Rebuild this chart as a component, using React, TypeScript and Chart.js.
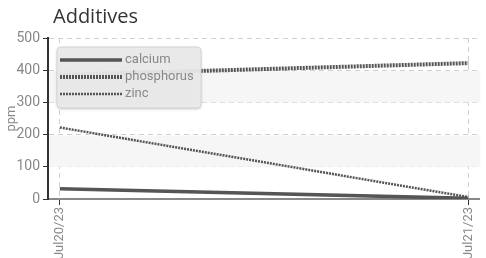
import React, { useEffect, useRef } from "react";
import { Chart, registerables } from "chart.js";

Chart.register(...registerables);

const TITLE = "Additives";
const Y_TITLE = "ppm";
const DATES = ["Jul20/23", "Jul21/23"];
const CALCIUM = [32, 2];
const PHOSPHORUS = [385, 422];
const ZINC = [222, 6];
const Y_TICKS = [0, 100, 200, 300, 400, 500];

const FONT = "'Liberation Sans Narrow', Roboto, sans-serif";

const bandsPlugin = {
  id: "bands",
  beforeDatasetsDraw(chart: any) {
    const { ctx, chartArea, scales } = chart;
    const y = scales.y;
    ctx.save();
    ctx.fillStyle = "#f6f6f6";
    [[100, 200], [300, 400]].forEach(([a, b]) => {
      const y1 = y.getPixelForValue(b) + 1;
      const y2 = y.getPixelForValue(a);
      ctx.fillRect(chartArea.left + 1, y1, chartArea.right - chartArea.left, y2 - y1);
    });
    ctx.restore();
  },
};

const legendPlugin = {
  id: "boxLegend",
  afterDraw(chart: any) {
    const { ctx } = chart;
    ctx.save();
    ctx.fillStyle = "#333";
    ctx.font = "20px 'Open Sans', 'Noto Sans', sans-serif";
    ctx.textBaseline = "alphabetic";
    ctx.fillText(TITLE, 53, 23);
    const bx = 57, by = 47, bw = 144, bh = 61, r = 4;
    ctx.shadowColor = "rgba(0,0,0,0.25)";
    ctx.shadowBlur = 3;
    ctx.shadowOffsetY = 1;
    ctx.beginPath();
    ctx.roundRect(bx, by, bw, bh, r);
    ctx.fillStyle = "rgba(236,236,236,0.92)";
    ctx.fill();
    ctx.shadowColor = "transparent";
    ctx.strokeStyle = "#d4d4d4";
    ctx.lineWidth = 1;
    ctx.stroke();
    const rows = [60, 77, 94];
    chart.data.datasets.forEach((ds: any, i: number) => {
      const yy = rows[i];
      ctx.beginPath();
      ctx.setLineDash(ds.borderDash || []);
      ctx.lineWidth = ds.borderWidth;
      ctx.strokeStyle = ds.borderColor;
      ctx.moveTo(60, yy);
      ctx.lineTo(122, yy);
      ctx.stroke();
      ctx.setLineDash([]);
      ctx.fillStyle = "#888";
      ctx.font = "13px " + FONT;
      ctx.textBaseline = "middle";
      ctx.fillText(ds.label, 125, yy);
    });
    ctx.restore();
  },
};

export default function App() {
  const ref = useRef<HTMLCanvasElement>(null);
  useEffect(() => {
    if (!ref.current) return;
    const mk = (arr: number[]) => arr.map((v, i) => ({ x: i, y: v }));
    const chart = new Chart(ref.current, {
      type: "line",
      data: {
        datasets: [
          { label: "calcium", data: mk(CALCIUM), borderColor: "#555", borderWidth: 3.5, pointRadius: 0, tension: 0 },
          { label: "phosphorus", data: mk(PHOSPHORUS), borderColor: "#555", borderWidth: 4, borderDash: [2, 1], pointRadius: 0, tension: 0 },
          { label: "zinc", data: mk(ZINC), borderColor: "#555", borderWidth: 2.5, borderDash: [2, 1], pointRadius: 0, tension: 0 },
        ],
      },
      options: {
        animation: false,
        responsive: false,
        maintainAspectRatio: false,
        layout: { padding: { top: 38, right: 4, left: 4, bottom: 0 } },
        plugins: { legend: { display: false }, title: { display: false }, tooltip: { enabled: false } },
        scales: {
          x: {
            type: "linear",
            min: -0.029,
            max: 1.027,
            afterBuildTicks: (s: any) => { s.ticks = DATES.map((_, i) => ({ value: i })); },
            afterFit: (s: any) => { s.height = 59; },
            ticks: {
              minRotation: 90,
              maxRotation: 90,
              color: "#888",
              font: { family: FONT, size: 13 },
              callback: (v: any) => DATES[v] ?? "",
              padding: 2,
            },
            grid: { color: "#cfcfcf", tickColor: "#333", tickLength: 6, tickBorderDash: [] },
            border: { color: "#888", width: 2, dash: [5, 4] },
          },
          y: {
            min: 0,
            max: 500,
            afterBuildTicks: (s: any) => { s.ticks = Y_TICKS.map((v) => ({ value: v })); },
            afterFit: (s: any) => { s.width = 44; },
            title: { display: true, text: Y_TITLE, color: "#888", font: { family: FONT, size: 13 }, padding: 0 },
            ticks: { color: "#888", font: { family: FONT, size: 14 }, padding: 3 },
            grid: { color: "#cfcfcf", tickColor: "#333", tickLength: 5, tickBorderDash: [] },
            border: { color: "#333", width: 2, dash: [5, 4] },
          },
        },
      },
      plugins: [bandsPlugin, legendPlugin],
    } as any);
    return () => chart.destroy();
  }, []);
  return (
    <div style={{ position: "fixed", left: 0, top: 0, width: 486, height: 258, background: "#fff" }}>
      <canvas ref={ref} width={486} height={258} style={{ width: 486, height: 258 }} />
    </div>
  );
}
